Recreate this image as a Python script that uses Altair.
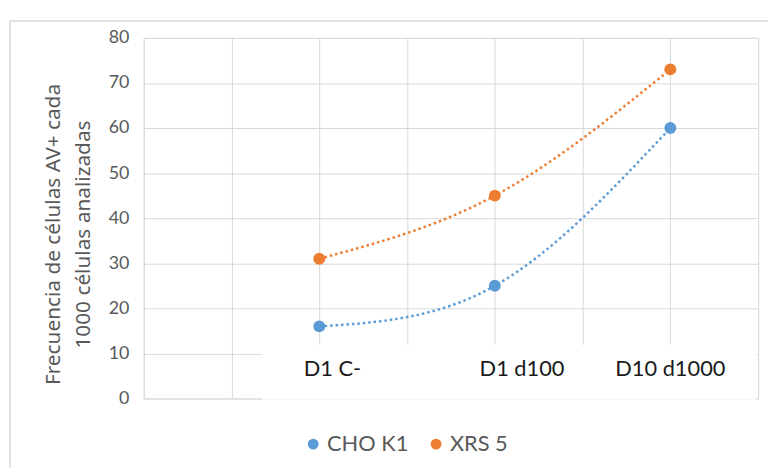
import altair as alt
import pandas as pd

categories = ["D1 C-", "D1 d100", "D10 d1000"]
positions = [2, 4, 6]
cho_k1 = [16, 25, 60]
xrs_5 = [31, 45, 73]
series_names = ["CHO K1", "XRS 5"]
series_colors = ["#5B9BD5", "#ED7D31"]
label_x = [2.15, 4.31, 6.0]
label_y = [6.6, 6.6, 6.6]
y_ticks = [0, 10, 20, 30, 40, 50, 60, 70, 80]
x_grid = [0, 1, 2, 3, 4, 5, 6, 7]
box_x = [1.35, 6.98]
box_y = [-0.3, 11.9]
y_title = ["Frecuencia de células AV+ cada", "1000 células analizadas"]

rows = []
for name, vals in zip(series_names, [cho_k1, xrs_5]):
    for p, c, v in zip(positions, categories, vals):
        rows.append({"serie": name, "linea": name, "pos": p, "cat": c, "valor": v})
df = pd.DataFrame(rows)
labels_df = pd.DataFrame({"cat": categories, "x": label_x, "y": label_y})
box_df = pd.DataFrame({"x": [box_x[0]], "x2": [box_x[1]], "y": [box_y[0]], "y2": [box_y[1]]})

GRID = "#d9d9d9"
GRAY = "#595959"

xscale = alt.Scale(domain=[0, 7], nice=False, zero=False)
yscale = alt.Scale(domain=[0, 80], nice=False)

xaxis = alt.Axis(values=x_grid, labels=False, ticks=False, domain=False, grid=True,
                 gridColor=GRID, title=None)
yaxis = alt.Axis(values=y_ticks, ticks=False, domain=False, grid=True, gridColor=GRID,
                 labelFont="Lato", labelFontSize=18, labelColor=GRAY, labelPadding=15,
                 title=y_title, titleFont="Noto Sans", titleFontSize=21, titleFontWeight="normal",
                 titleColor=GRAY, titleLineHeight=30, titleX=-91, titleY=198,
                 titleAlign="center", titleBaseline="middle", titleAngle=270)

base_frame = alt.Chart(box_df).mark_rect(fill="none", stroke=GRID, strokeWidth=1.5).encode(
    x=alt.value(-135), x2=alt.value(800), y=alt.value(-17), y2=alt.value(500)
)

white_box = alt.Chart(box_df).mark_rect(fill="white", stroke=None).encode(
    x=alt.X("x:Q", scale=xscale, axis=xaxis),
    x2="x2:Q",
    y=alt.Y("y:Q", scale=yscale, axis=yaxis),
    y2="y2:Q",
)

text = alt.Chart(labels_df).mark_text(font="Lato", fontSize=22, color="#1a1a1a",
                                      align="center", baseline="middle").encode(
    x=alt.X("x:Q", scale=xscale), y=alt.Y("y:Q", scale=yscale), text="cat:N"
)

lines = alt.Chart(df).mark_line(interpolate="natural", strokeDash=[2.5, 3],
                                strokeWidth=2.5).encode(
    x=alt.X("pos:Q", scale=xscale),
    y=alt.Y("valor:Q", scale=yscale),
    stroke=alt.Stroke("linea:N", scale=alt.Scale(domain=series_names, range=series_colors), legend=None),
)

points = alt.Chart(df).mark_point(filled=True, size=145, opacity=1, shape="circle").encode(
    x=alt.X("pos:Q", scale=xscale),
    y=alt.Y("valor:Q", scale=yscale),
    color=alt.Color("serie:N", scale=alt.Scale(domain=series_names, range=series_colors),
                    legend=alt.Legend(title=None, orient="none", legendX=160, legendY=399,
                                      direction="horizontal", symbolType="circle", symbolSize=120,
                                      symbolOpacity=1,
                                      labelFont="Lato", labelFontSize=22, labelColor=GRAY,
                                      labelOffset=3, columnPadding=16)),
)

chart = alt.layer(base_frame, white_box, text, lines, points).resolve_scale(
    color="independent", stroke="independent"
).properties(
    width=620, height=364,
    autosize=alt.AutoSizeParams(type="none"),
    padding={"left": 137, "top": 28, "right": 10, "bottom": 68},
).configure_view(stroke=None).configure(background="white")

chart.save("out.html", embed_options={"renderer": "svg", "actions": False})
